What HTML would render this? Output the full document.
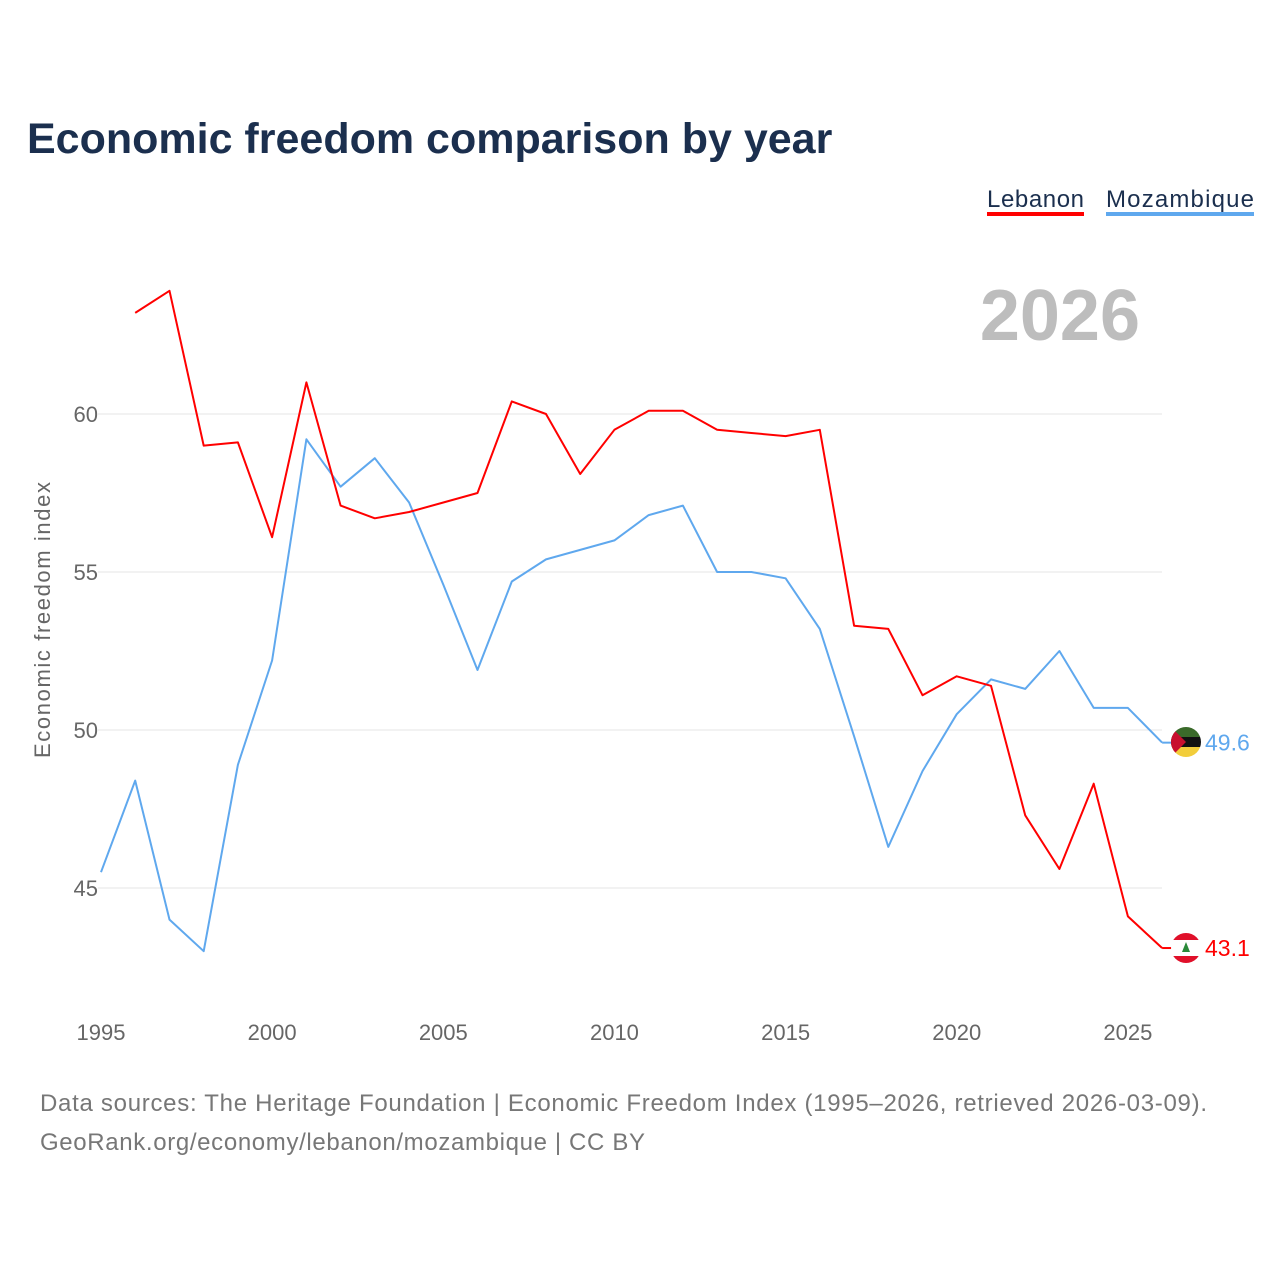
<!DOCTYPE html>
<html><head><meta charset="utf-8"><style>
body{margin:0;background:#fff;font-family:"Liberation Sans",sans-serif}
svg text{font-family:"Liberation Sans",sans-serif}
</style></head><body>
<svg id="c" width="1280" height="1280" viewBox="0 0 1280 1280">
<text x="27" y="153" font-size="43" font-weight="bold" fill="#1b2f4e">Economic freedom comparison by year</text>
<g>
<text x="987" y="207" font-size="24" fill="#1b2f4e" textLength="97">Lebanon</text>
<rect x="987" y="212" width="97" height="4" fill="#ff0000"/>
<text x="1106" y="207" font-size="24" fill="#1b2f4e" textLength="148">Mozambique</text>
<rect x="1106" y="212" width="148" height="4" fill="#5fa8ee"/>
</g>
<text x="1140" y="340" text-anchor="end" font-size="72" font-weight="bold" fill="#bdbdbd">2026</text>
<text transform="translate(50,620) rotate(-90)" text-anchor="middle" font-size="22" fill="#666" textLength="276">Economic freedom index</text>
<defs>
<clipPath id="cm"><circle cx="1186" cy="742" r="15"/></clipPath>
<clipPath id="cl"><circle cx="1186" cy="948" r="15"/></clipPath>
</defs>
<g id="grid"></g><g id="lines"></g><g id="ends"></g>
<g clip-path="url(#cm)">
<rect x="1170" y="726" width="32" height="11" fill="#3a6a2a"/>
<rect x="1170" y="737" width="32" height="10" fill="#111"/>
<rect x="1170" y="747" width="32" height="11" fill="#f2cd3a"/>
<polygon points="1170,726 1186,742 1170,758" fill="#c8102e"/>
</g>
<g clip-path="url(#cl)">
<rect x="1170" y="932" width="32" height="32" fill="#fff"/>
<rect x="1170" y="932" width="32" height="8" fill="#e0102a"/>
<rect x="1170" y="956" width="32" height="8" fill="#e0102a"/>
<polygon points="1186,942 1190,952 1182,952" fill="#2a8a3a"/>
</g>
<text x="40" y="1111" font-size="24" fill="#777" textLength="1167">Data sources: The Heritage Foundation | Economic Freedom Index (1995–2026, retrieved 2026-03-09).</text>
<text x="40" y="1150" font-size="24" fill="#777" textLength="605">GeoRank.org/economy/lebanon/mozambique | CC BY</text>
</svg>
<script>
const years=[];for(let y=1995;y<=2026;y++)years.push(y);
const lebanon=[null,63.2,63.9,59.0,59.1,56.1,61.0,57.1,56.7,56.9,57.2,57.5,60.4,60.0,58.1,59.5,60.1,60.1,59.5,59.4,59.3,59.5,53.3,53.2,51.1,51.7,51.4,47.3,45.6,48.3,44.1,43.1];
const mozambique=[45.5,48.4,44.0,43.0,48.9,52.2,59.2,57.7,58.6,57.2,54.6,51.9,54.7,55.4,55.7,56.0,56.8,57.1,55.0,55.0,54.8,53.2,49.8,46.3,48.7,50.5,51.6,51.3,52.5,50.7,50.7,49.6];
const yTicks=[45,50,55,60];
const xTicks=[1995,2000,2005,2010,2015,2020,2025];
const X=y=>101+(y-1995)*34.23;
const Y=v=>730-(v-50)*31.6;
const NS="http://www.w3.org/2000/svg";
function mk(t,a,p){const e=document.createElementNS(NS,t);for(const k in a)e.setAttribute(k,a[k]);p.appendChild(e);return e;}
const g=document.getElementById('grid');
yTicks.forEach(v=>{
 const l=mk('line',{x1:98,x2:1162,y1:Y(v),y2:Y(v),stroke:'#e6e6e6','stroke-width':1},g);
 
 
 const t=mk('text',{x:98,y:Y(v)+8,'text-anchor':'end','font-size':22,fill:'#666'},g);t.textContent=v;
 
 
});
xTicks.forEach(v=>{
 const t=mk('text',{x:X(v),y:1040,'text-anchor':'middle','font-size':22,fill:'#666'},g);t.textContent=v;
 
 
});
const L=document.getElementById('lines');
function line(data,color,name){
 let d='';data.forEach((v,i)=>{if(v==null)return;d+=(d?'L':'M')+X(years[i]).toFixed(1)+','+Y(v).toFixed(1);});
 const p=mk('path',{d:d,fill:'none',stroke:color,'stroke-width':2,'stroke-linejoin':'round'},L);
 
 
}
line(mozambique,'#5fa8ee','mozambique');
line(lebanon,'#ff0000','lebanon');
const E=document.getElementById('ends');
function endLab(data,color,name){
 const v=data[data.length-1],x=X(2026),y=Y(v);
 mk('line',{x1:x,x2:x+14,y1:y,y2:y,stroke:color,'stroke-width':2},E);
 const t=mk('text',{x:1205,y:y+8,'font-size':23,fill:color},E);t.textContent=v.toFixed(1);
 
 
}
endLab(mozambique,'#5fa8ee','mozambique');
endLab(lebanon,'#ff0000','lebanon');
</script>
</body></html>
